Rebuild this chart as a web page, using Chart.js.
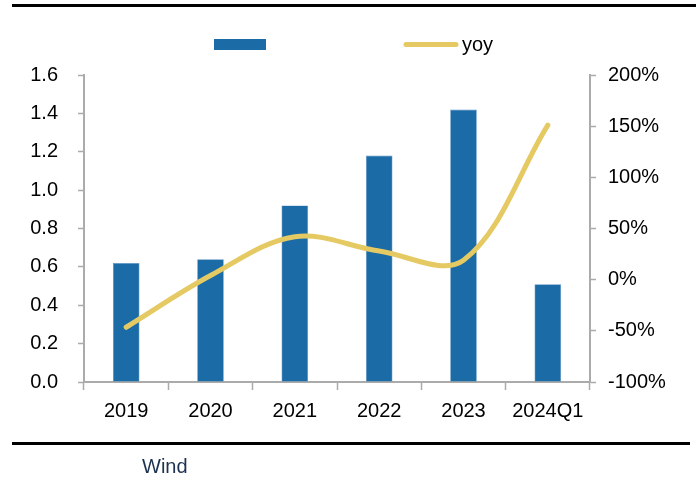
<!DOCTYPE html>
<html>
<head>
<meta charset="utf-8">
<script src="https://cdn.jsdelivr.net/npm/chart.js@4"></script>
<style>
  html, body { margin: 0; padding: 0; background: #fff; }
  #wrap { width: 696px; height: 484px; position: relative; }
</style>
</head>
<body>
<div id="wrap"><canvas id="grafico" width="696" height="484"></canvas></div>
<script>
// datos
const categorias = ['2019', '2020', '2021', '2022', '2023', '2024Q1'];
const valores = [0.62, 0.64, 0.92, 1.18, 1.42, 0.51];
const yoy = [-46.5, 4, 42, 28, 19, 151];
const ticksIzq = [0, 0.2, 0.4, 0.6, 0.8, 1.0, 1.2, 1.4, 1.6];
const ticksDer = [-100, -50, 0, 50, 100, 150, 200];

const AZUL = '#1b6ba7';
const AMARILLO = '#e5c962';
const GRIS = '#ababab';
const FUENTE = '"Liberation Sans", Arial, sans-serif';

// leyenda, lineas de marco y fuente "Wind"
const decoracion = {
    id: 'decoracion',
    afterDraw(chart) {
        const ctx = chart.ctx;
        ctx.save();
        // lineas negras arriba y abajo
        ctx.fillStyle = '#000';
        ctx.fillRect(12, 4, 684, 3);
        ctx.fillRect(12, 442, 678, 3);

        // leyenda
        ctx.fillStyle = AZUL;
        ctx.fillRect(214, 39, 52, 11);
        ctx.strokeStyle = AMARILLO;
        ctx.lineWidth = 5;
        ctx.lineCap = 'round';
        ctx.beginPath();
        ctx.moveTo(406, 44.5);
        ctx.lineTo(456, 44.5);
        ctx.stroke();
        ctx.fillStyle = '#000';
        ctx.font = '20px ' + FUENTE;
        ctx.textBaseline = 'alphabetic';
        ctx.fillText('yoy', 462, 51);

        // fuente
        ctx.fillStyle = '#1d3150';
        ctx.fillText('Wind', 142, 473);
        ctx.restore();
    }
};

new Chart(document.getElementById('grafico').getContext('2d'), {
    data: {
        labels: categorias,
        datasets: [
            {
                type: 'line',
                label: 'yoy',
                data: yoy,
                yAxisID: 'y1',
                borderColor: AMARILLO,
                backgroundColor: AMARILLO,
                borderWidth: 5,
                borderCapStyle: 'round',
                borderJoinStyle: 'round',
                pointRadius: 0,
                tension: 0.35,
                fill: false,
                order: 0
            },
            {
                type: 'bar',
                label: '',
                data: valores,
                yAxisID: 'y',
                backgroundColor: AZUL,
                borderColor: '#5d93c0',
                borderWidth: 0.6,
                categoryPercentage: 1,
                barPercentage: 0.316,
                order: 1
            }
        ]
    },
    options: {
        responsive: false,
        animation: false,
        layout: { padding: { top: 75, left: 0, right: 0, bottom: 0 } },
        plugins: {
            legend: { display: false },
            tooltip: { enabled: false }
        },
        scales: {
            x: {
                offset: true,
                afterFit: s => { s.height = 102; },
                border: { display: true, color: GRIS, width: 2 },
                grid: {
                    offset: true,
                    drawOnChartArea: false,
                    drawTicks: true,
                    tickLength: 8,
                    tickColor: GRIS,
                    tickWidth: 1.5
                },
                ticks: {
                    color: '#000',
                    padding: 9,
                    maxRotation: 0,
                    font: { family: FUENTE, size: 20 }
                }
            },
            y: {
                position: 'left',
                min: 0,
                max: 1.6,
                afterFit: s => { s.width = 84; },
                afterBuildTicks: s => { s.ticks = ticksIzq.map(v => ({ value: v })); },
                border: { display: true, color: GRIS, width: 2 },
                grid: {
                    drawOnChartArea: false,
                    drawTicks: true,
                    tickLength: 6,
                    tickColor: GRIS,
                    tickWidth: 1.5
                },
                ticks: {
                    color: '#000',
                    padding: 20,
                    font: { family: FUENTE, size: 20 },
                    callback: v => Number(v).toFixed(1)
                }
            },
            y1: {
                position: 'right',
                min: -100,
                max: 200,
                afterFit: s => { s.width = 106; },
                afterBuildTicks: s => { s.ticks = ticksDer.map(v => ({ value: v })); },
                border: { display: true, color: GRIS, width: 2 },
                grid: {
                    drawOnChartArea: false,
                    drawTicks: true,
                    tickLength: 6,
                    tickColor: GRIS,
                    tickWidth: 1.5
                },
                ticks: {
                    color: '#000',
                    padding: 12,
                    font: { family: FUENTE, size: 20 },
                    callback: v => v + '%'
                }
            }
        }
    },
    plugins: [decoracion]
});
</script>
</body>
</html>
